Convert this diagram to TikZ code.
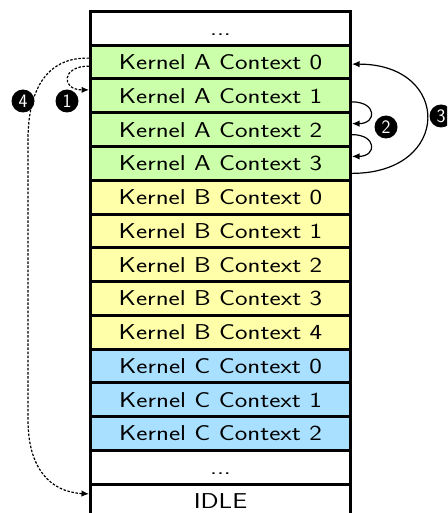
\documentclass[tikz,border=0pt]{standalone}
\usepackage{graphicx}
\usetikzlibrary{arrows.meta}
\definecolor{cgreen}{RGB}{204,255,170}
\definecolor{cyellow}{RGB}{255,255,170}
\definecolor{cblue}{RGB}{170,224,255}
\newcommand{\wtxt}[1]{\scalebox{1.24}[1]{#1}}
\tikzset{
 row/.style={draw=black, line width=3pt, minimum width=260pt, minimum height=33.75pt,
   inner sep=0pt, anchor=north west, text height=15pt, text depth=0pt,
   font=\sffamily\fontsize{21.5}{25}\selectfont},
 badge/.style={circle, fill=black, text=white, inner sep=0pt, minimum size=23pt,
   font=\sffamily\fontsize{19}{21}\selectfont},
 solidarrow/.style={line width=1.2pt, -{Latex[length=7.5pt,width=6.5pt]}},
 dasharrow/.style={line width=1.2pt, dash pattern=on 2.5pt off 1.6pt, -{Latex[length=7.5pt,width=6.5pt]}},
}
\begin{document}
\begin{tikzpicture}[x=1pt,y=-1pt]
\useasboundingbox (0,0) rectangle (447,513);
\clip (0,0) rectangle (447,513);
\node[row, fill=white]   (top) at (89,10)     {\wtxt{...}};
\node[row, fill=cgreen]  (A0)  at (89,43.75)  {\wtxt{Kernel A Context 0}};
\node[row, fill=cgreen]  (A1)  at (89,77.5)   {\wtxt{Kernel A Context 1}};
\node[row, fill=cgreen]  (A2)  at (89,111.25) {\wtxt{Kernel A Context 2}};
\node[row, fill=cgreen]  (A3)  at (89,145)    {\wtxt{Kernel A Context 3}};
\node[row, fill=cyellow] (B0)  at (89,178.75) {\wtxt{Kernel B Context 0}};
\node[row, fill=cyellow] (B1)  at (89,212.5)  {\wtxt{Kernel B Context 1}};
\node[row, fill=cyellow] (B2)  at (89,246.25) {\wtxt{Kernel B Context 2}};
\node[row, fill=cyellow] (B3)  at (89,280)    {\wtxt{Kernel B Context 3}};
\node[row, fill=cyellow] (B4)  at (89,313.75) {\wtxt{Kernel B Context 4}};
\node[row, fill=cblue]   (C0)  at (89,347.5)  {\wtxt{Kernel C Context 0}};
\node[row, fill=cblue]   (C1)  at (89,381.25) {\wtxt{Kernel C Context 1}};
\node[row, fill=cblue]   (C2)  at (89,415)    {\wtxt{Kernel C Context 2}};
\node[row, fill=white]   (dots) at (89,448.75) {\wtxt{...}};
\node[row, fill=white]   (IDLE) at (89,482.5) {\wtxt{IDLE}};
% arrow 1
\draw[dasharrow] ([yshift=-4pt]A0.west) .. controls +(-28,0) and +(-28,0) .. ([yshift=6pt]A1.west);
% arrow 4
\coordinate (w1) at (28,140);
\coordinate (w2) at (28,420);
\draw[dasharrow] ([yshift=4pt]A0.west) .. controls (50,57) and (28,85) .. (w1) -- (w2)
   .. controls (28,468) and (50,492) .. ([yshift=7pt]IDLE.west);
% arrows 2
\draw[solidarrow] ([yshift=-6pt]A1.east) .. controls +(25,0) and +(25,0) .. ([yshift=6pt]A2.east);
\draw[solidarrow] ([yshift=-5pt]A2.east) .. controls +(25,0) and +(25,0) .. ([yshift=7pt]A3.east);
% arrow 3
\draw[solidarrow] ([yshift=-10pt]A3.east) .. controls +(100,0) and +(100,0) .. ([yshift=-2pt]A0.east);
% badges
\node[badge] (n1) at (67,101) {1};
\node[badge] (n4) at (23,101) {4};
\node[badge] (n2) at (386,127) {2};
\node[badge] (n3) at (441,116) {3};
\end{tikzpicture}
\end{document}
